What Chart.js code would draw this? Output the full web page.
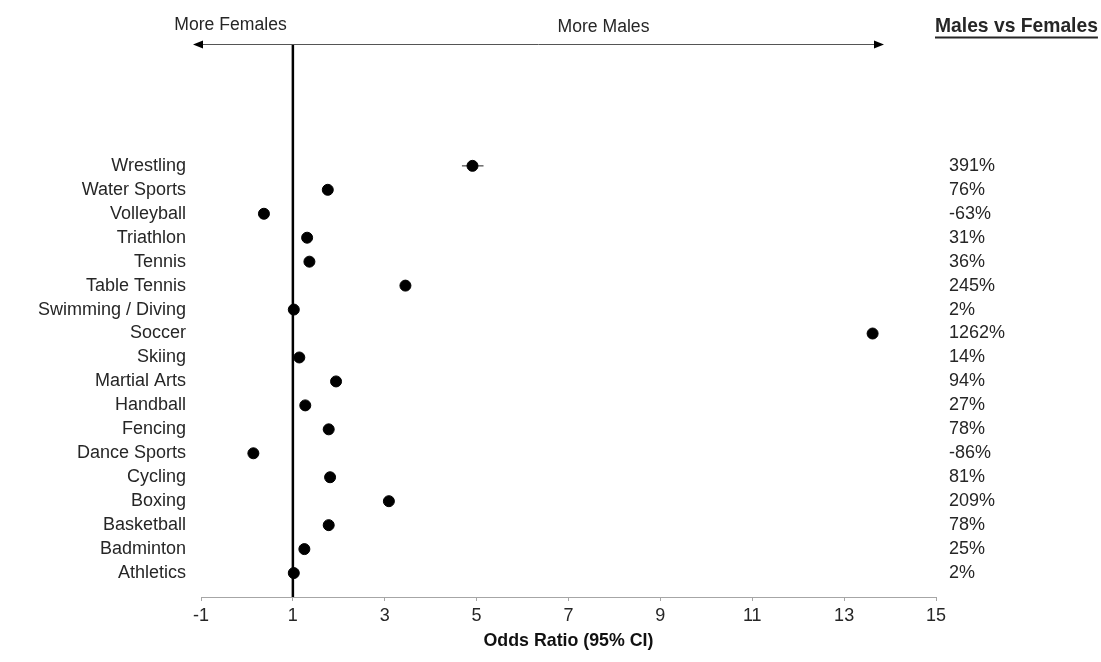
<!DOCTYPE html>
<html>
<head>
<meta charset="utf-8">
<script src="https://cdn.jsdelivr.net/npm/chart.js@4.4.0/dist/chart.umd.min.js"></script>
<style>
  html, body { margin: 0; padding: 0; background: #fff; }
</style>
</head>
<body>
<canvas id="forestChart" width="1101" height="662"></canvas>
<script>
// sports listed top to bottom, as in the figure
const sports = ["Wrestling", "Water Sports", "Volleyball", "Triathlon", "Tennis", "Table Tennis",
    "Swimming / Diving", "Soccer", "Skiing", "Martial Arts", "Handball", "Fencing",
    "Dance Sports", "Cycling", "Boxing", "Basketball", "Badminton", "Athletics"];
const oddsRatio = [4.91, 1.76, 0.37, 1.31, 1.36, 3.45, 1.02, 13.62, 1.14, 1.94, 1.27, 1.78,
    0.14, 1.81, 3.09, 1.78, 1.25, 1.02];
const ciLow = [4.68, 1.70, 0.33, 1.26, 1.31, 3.38, 0.98, 13.55, 1.09, 1.88, 1.22, 1.72,
    0.10, 1.75, 3.02, 1.72, 1.20, 0.98];
const ciHigh = [5.15, 1.82, 0.41, 1.36, 1.41, 3.52, 1.06, 13.69, 1.19, 2.00, 1.32, 1.84,
    0.18, 1.87, 3.16, 1.84, 1.30, 1.06];
const percentLabels = ["391%", "76%", "-63%", "31%", "36%", "245%", "2%", "1262%", "14%", "94%",
    "27%", "78%", "-86%", "81%", "209%", "78%", "25%", "2%"];
const xTicks = [-1, 1, 3, 5, 7, 9, 11, 13, 15];

const FONT = '"Liberation Sans", Arial, sans-serif';
const TEXT = "#262626";
const ARROW_Y = 44;

// row position: top row gets the highest value
const rowOf = i => sports.length - i;

function rowTicks(scale) {
    scale.ticks = sports.map((s, i) => ({ value: rowOf(i) }));
}

const annotations = {
    id: "annotations",
    beforeDatasetsDraw(chart) {
        const { ctx, chartArea, scales: { x, y } } = chart;
        ctx.save();
        // reference line at OR = 1
        const x1 = x.getPixelForValue(1);
        ctx.strokeStyle = "#000";
        ctx.lineWidth = 2.5;
        ctx.beginPath();
        ctx.moveTo(x1, ARROW_Y);
        ctx.lineTo(x1, chartArea.bottom);
        ctx.stroke();
        // confidence intervals
        ctx.strokeStyle = "#444";
        ctx.lineWidth = 1.2;
        sports.forEach((s, i) => {
            const py = y.getPixelForValue(rowOf(i));
            ctx.beginPath();
            ctx.moveTo(x.getPixelForValue(ciLow[i]), py);
            ctx.lineTo(x.getPixelForValue(ciHigh[i]), py);
            ctx.stroke();
        });
        ctx.restore();
    },
    afterDraw(chart) {
        const { ctx } = chart;
        ctx.save();
        // direction arrow
        const left = 193, right = 884;
        ctx.strokeStyle = "#555";
        ctx.lineWidth = 1;
        ctx.beginPath();
        ctx.moveTo(left + 6, ARROW_Y + 0.5);
        ctx.lineTo(right - 6, ARROW_Y + 0.5);
        ctx.stroke();
        ctx.fillStyle = "#000";
        ctx.beginPath();
        ctx.moveTo(left, ARROW_Y + 0.5);
        ctx.lineTo(left + 10, ARROW_Y - 3.5);
        ctx.lineTo(left + 10, ARROW_Y + 4.5);
        ctx.closePath();
        ctx.fill();
        ctx.beginPath();
        ctx.moveTo(right, ARROW_Y + 0.5);
        ctx.lineTo(right - 10, ARROW_Y - 3.5);
        ctx.lineTo(right - 10, ARROW_Y + 4.5);
        ctx.closePath();
        ctx.fill();

        ctx.fillStyle = TEXT;
        ctx.textBaseline = "middle";
        ctx.textAlign = "center";
        ctx.font = "17.6px " + FONT;
        ctx.fillText("More Females", 230.5, 25);
        ctx.fillText("More Males", 603.5, 27);

        // right-hand header
        ctx.textAlign = "left";
        ctx.font = "bold 19.3px " + FONT;
        const hx = 935;
        ctx.fillText("Males vs Females", hx, 27);
        const w = ctx.measureText("Males vs Females").width;
        ctx.fillRect(hx, 36.5, w, 2);
        ctx.restore();
    }
};

const ctx = document.getElementById("forestChart").getContext("2d");
const forestChart = new Chart(ctx, {
    type: "scatter",
    data: {
        datasets: [{
            data: sports.map((s, i) => ({ x: oddsRatio[i], y: rowOf(i) })),
            backgroundColor: "#000",
            borderColor: "#000",
            pointRadius: 5.5,
            pointHoverRadius: 5.5
        }]
    },
    options: {
        responsive: false,
        animation: false,
        layout: { padding: { top: 94, left: 0, right: 0, bottom: 0 } },
        plugins: {
            legend: { display: false },
            tooltip: { enabled: false }
        },
        scales: {
            x: {
                type: "linear",
                min: -1,
                max: 15,
                afterBuildTicks: s => { s.ticks = xTicks.map(v => ({ value: v })); },
                afterFit: s => { s.height = 65; },
                ticks: {
                    color: TEXT,
                    font: { family: FONT, size: 18 },
                    padding: 4,
                    maxRotation: 0,
                    autoSkip: false
                },
                grid: { drawOnChartArea: false, drawTicks: true, tickLength: 4, color: "#a6a6a6" },
                border: { color: "#a6a6a6", width: 1 },
                title: {
                    display: true,
                    text: "Odds Ratio (95% CI)",
                    color: "#111",
                    font: { family: FONT, size: 17.8, weight: "bold" },
                    padding: { top: 2, bottom: 10 }
                }
            },
            y: {
                type: "linear",
                position: "left",
                min: 0,
                max: 21,
                afterBuildTicks: rowTicks,
                afterFit: s => { s.width = 201; },
                ticks: {
                    color: TEXT,
                    font: { family: FONT, size: 18 },
                    padding: 15,
                    autoSkip: false,
                    callback: v => sports[sports.length - v]
                },
                grid: { display: false, drawTicks: false },
                border: { display: false }
            },
            pct: {
                type: "linear",
                position: "right",
                min: 0,
                max: 21,
                afterBuildTicks: rowTicks,
                afterFit: s => { s.width = 165; },
                ticks: {
                    color: TEXT,
                    font: { family: FONT, size: 18 },
                    padding: 13,
                    autoSkip: false,
                    callback: v => percentLabels[sports.length - v]
                },
                grid: { display: false, drawTicks: false },
                border: { display: false }
            }
        }
    },
    plugins: [annotations]
});
</script>
</body>
</html>
